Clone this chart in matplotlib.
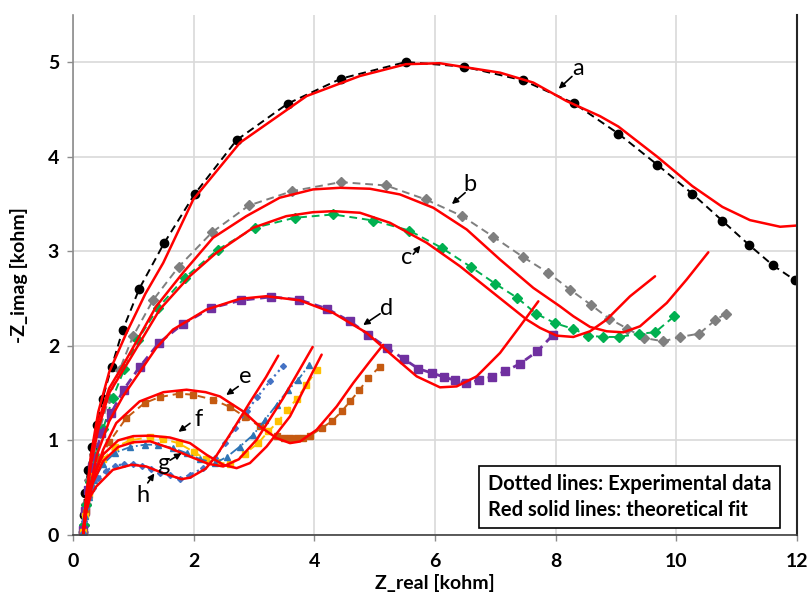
import matplotlib
matplotlib.use("Agg")
import matplotlib.pyplot as plt

# --- EXPERIMENTAL DATA (Z_real, -Z_imag in kohm) ---
a_x = [0.17, 0.18, 0.20, 0.254, 0.32, 0.403, 0.492, 0.641, 0.824, 1.099, 1.508, 2.017, 2.713,
       3.558, 4.442, 5.52, 6.48, 7.459, 8.304, 9.039, 9.685, 10.265, 10.763, 11.21, 11.598, 11.967]
a_y = [0.03, 0.21, 0.445, 0.689, 0.935, 1.158, 1.441, 1.777, 2.164, 2.603, 3.083, 3.605, 4.177,
       4.562, 4.827, 5.003, 4.954, 4.809, 4.566, 4.245, 3.916, 3.609, 3.323, 3.065, 2.853, 2.694]

b_x = [0.18, 0.22, 0.27, 0.35, 0.45, 0.60, 0.774, 0.995, 1.326, 1.752, 2.309, 2.917, 3.635, 4.437,
       5.188, 5.846, 6.453, 6.967, 7.464, 7.878, 8.238, 8.581, 8.885, 9.188, 9.465, 9.785, 10.06,
       10.38, 10.64, 10.82]
b_y = [0.10, 0.33, 0.58, 0.86, 1.13, 1.45, 1.748, 2.10, 2.482, 2.836, 3.203, 3.485, 3.637, 3.732,
       3.697, 3.549, 3.372, 3.154, 2.938, 2.772, 2.595, 2.436, 2.288, 2.182, 2.083, 2.048, 2.094,
       2.129, 2.27, 2.341]

c_x = [0.18, 0.22, 0.28, 0.37, 0.50, 0.66, 0.85, 1.077, 1.409, 1.851, 2.403, 3.011, 3.674, 4.315,
       4.978, 5.575, 6.111, 6.592, 6.995, 7.365, 7.675, 7.99, 8.293, 8.542, 8.79, 9.05, 9.387,
       9.647, 9.967]
c_y = [0.10, 0.32, 0.56, 0.82, 1.12, 1.45, 1.75, 2.066, 2.401, 2.719, 3.019, 3.249, 3.355, 3.39,
       3.326, 3.22, 3.037, 2.836, 2.659, 2.507, 2.341, 2.24, 2.179, 2.108, 2.094, 2.094, 2.129,
       2.143, 2.313]

d_x = [0.17, 0.20, 0.25, 0.32, 0.469, 0.635, 0.84, 1.105, 1.425, 1.823, 2.293, 2.79, 3.287, 3.746,
       4.205, 4.591, 4.895, 5.21, 5.486, 5.724, 5.946, 6.15, 6.332, 6.509, 6.73, 6.94, 7.161,
       7.409, 7.696, 7.961]
d_y = [0.05, 0.25, 0.48, 0.72, 1.077, 1.289, 1.536, 1.776, 2.031, 2.232, 2.401, 2.482, 2.518, 2.489,
       2.394, 2.26, 2.119, 1.977, 1.861, 1.758, 1.713, 1.671, 1.635, 1.607, 1.635, 1.671, 1.73,
       1.811, 1.942, 2.119]

e_x = [0.17, 0.22, 0.30, 0.45, 0.60, 0.884, 1.188, 1.437, 1.757, 1.994, 2.326, 2.602, 2.85, 3.10,
       3.376, 3.49, 3.60, 3.71, 3.82, 3.93, 4.122, 4.288, 4.454, 4.591, 4.746, 4.895, 5.089]
e_y = [0.03, 0.25, 0.50, 0.80, 0.98, 1.236, 1.395, 1.458, 1.494, 1.483, 1.43, 1.353, 1.25, 1.147,
       1.041, 1.03, 1.03, 1.02, 1.03, 1.05, 1.13, 1.20, 1.306, 1.412, 1.529, 1.66, 1.78]

f_x = [0.17, 0.20, 0.26, 0.35, 0.50, 0.70, 0.95, 1.276, 1.497, 1.75, 2.00, 2.20, 2.382, 2.602,
       2.85, 3.072, 3.237, 3.403, 3.542, 3.708, 3.87, 4.039]
f_y = [0.03, 0.20, 0.42, 0.62, 0.80, 0.93, 1.00, 1.035, 1.014, 0.97, 0.88, 0.80, 0.766, 0.752,
       0.86, 0.971, 1.094, 1.20, 1.317, 1.437, 1.59, 1.74]

g_x = [0.17, 0.20, 0.26, 0.35, 0.50, 0.70, 0.95, 1.20, 1.414, 1.663, 1.884, 2.105, 2.354, 2.547,
       2.768, 2.989, 3.183, 3.376, 3.569, 3.735, 3.917]
g_y = [0.03, 0.20, 0.40, 0.58, 0.75, 0.87, 0.93, 0.955, 0.953, 0.918, 0.865, 0.802, 0.76, 0.823,
       0.935, 1.059, 1.218, 1.377, 1.536, 1.642, 1.801]

h_x = [0.17, 0.19, 0.22, 0.27, 0.33, 0.42, 0.55, 0.70, 0.85, 1.00, 1.15, 1.30, 1.45, 1.608, 1.774,
       1.939, 2.16, 2.354, 2.52, 2.685, 2.879, 3.055, 3.265, 3.476]
h_y = [0.02, 0.15, 0.28, 0.40, 0.50, 0.60, 0.68, 0.73, 0.75, 0.75, 0.73, 0.70, 0.66, 0.636, 0.59,
       0.636, 0.706, 0.812, 0.971, 1.13, 1.306, 1.458, 1.624, 1.783]

# --- THEORETICAL FITS ---
fa_x = [0.17, 0.22, 0.30, 0.42, 0.60, 0.89, 1.20, 1.497, 1.995, 2.768, 3.874, 4.757, 5.52, 6.08,
        7.08, 7.63, 8.18, 8.735, 9.039, 9.685, 10.265, 10.763, 11.22, 11.72, 12.0]
fa_y = [0.0, 0.40, 0.85, 1.30, 1.72, 2.14, 2.55, 2.878, 3.549, 4.149, 4.643, 4.855, 4.98, 4.99,
        4.89, 4.785, 4.59, 4.43, 4.32, 4.00, 3.69, 3.47, 3.33, 3.26, 3.273]

fb_x = [0.17, 0.22, 0.30, 0.42, 0.60, 0.884, 1.381, 1.823, 2.321, 2.873, 3.426, 3.978, 4.426,
        4.923, 5.42, 5.972, 6.526, 7.078, 7.63, 8.072, 8.293, 8.57, 8.846, 9.122, 9.398, 9.841,
        10.17, 10.53]
fb_y = [0.0, 0.40, 0.80, 1.20, 1.55, 1.854, 2.418, 2.772, 3.143, 3.372, 3.567, 3.655, 3.672,
        3.662, 3.602, 3.461, 3.231, 2.913, 2.613, 2.418, 2.313, 2.20, 2.154, 2.143, 2.207, 2.454,
        2.701, 2.99]

fc_x = [0.17, 0.22, 0.30, 0.42, 0.60, 0.94, 1.437, 1.934, 2.376, 2.984, 3.536, 3.978, 4.315,
        4.757, 5.254, 5.863, 6.415, 6.967, 7.52, 7.741, 8.017, 8.293, 8.57, 8.846, 9.232, 9.647]
fc_y = [0.0, 0.38, 0.75, 1.12, 1.50, 1.854, 2.383, 2.736, 2.984, 3.249, 3.372, 3.414, 3.425,
        3.408, 3.302, 3.09, 2.842, 2.56, 2.278, 2.19, 2.108, 2.094, 2.154, 2.278, 2.524, 2.736]

fd_x = [0.17, 0.25, 0.40, 0.60, 0.829, 1.381, 1.658, 2.21, 2.763, 3.204, 3.757, 4.315, 4.868,
        5.309, 5.697, 6.083, 6.36, 6.691, 7.078, 7.409, 7.713]
fd_y = [0.0, 0.40, 0.85, 1.20, 1.465, 1.978, 2.172, 2.383, 2.497, 2.525, 2.482, 2.348, 2.137,
        1.889, 1.677, 1.561, 1.571, 1.677, 1.925, 2.207, 2.471]

fe_x = [0.17, 0.22, 0.33, 0.50, 0.718, 1.105, 1.50, 1.884, 2.20, 2.437, 2.823, 3.10, 3.376,
        3.597, 3.763, 4.039, 4.371, 4.646, 4.923, 5.14]
fe_y = [0.0, 0.25, 0.583, 0.90, 1.183, 1.412, 1.51, 1.536, 1.51, 1.465, 1.306, 1.147, 1.024,
        0.971, 0.988, 1.112, 1.359, 1.607, 1.836, 2.01]

ff_x = [0.17, 0.22, 0.33, 0.50, 0.75, 1.00, 1.28, 1.608, 1.94, 2.216, 2.492, 2.713, 2.934,
        3.21, 3.597, 4.122]
ff_y = [0.0, 0.30, 0.60, 0.85, 1.00, 1.045, 1.05, 1.03, 0.971, 0.847, 0.742, 0.706, 0.76,
        0.935, 1.253, 1.907]

fg_x = [0.17, 0.22, 0.33, 0.50, 0.75, 1.00, 1.28, 1.608, 1.94, 2.243, 2.492, 2.75, 3.044,
        3.486, 3.973]
fg_y = [0.0, 0.28, 0.55, 0.78, 0.93, 0.98, 0.99, 0.918, 0.829, 0.752, 0.724, 0.80, 1.006,
        1.448, 1.988]

fh_x = [0.17, 0.22, 0.30, 0.387, 0.663, 0.973, 1.215, 1.492, 1.80, 1.94, 2.20, 2.38, 2.66,
        2.93, 3.20, 3.403]
fh_y = [0.0, 0.25, 0.42, 0.512, 0.689, 0.742, 0.724, 0.654, 0.59, 0.605, 0.70, 0.84, 1.12,
        1.40, 1.67, 1.896]

# curve letters: (label, text pos, arrow tail, arrow head)
labels = [
    ("a", (8.37, 4.93), (8.27, 4.85), (8.05, 4.72)),
    ("b", (6.58, 3.71), (6.50, 3.62), (6.28, 3.50)),
    ("c", (5.53, 2.93), (5.64, 2.97), (5.76, 3.06)),
    ("d", (5.19, 2.40), (5.09, 2.34), (4.81, 2.22)),
    ("e", (2.85, 1.68), (2.74, 1.57), (2.54, 1.48)),
    ("f", (2.08, 1.22), (1.94, 1.18), (1.75, 1.09)),
    ("g", (1.50, 0.76), (1.61, 0.79), (1.80, 0.865)),
    ("h", (1.16, 0.42), (1.24, 0.55), (1.35, 0.65)),
]

plt.rcParams['font.family'] = ['Lato', 'DejaVu Sans']

fig = plt.figure(figsize=(8.1, 6.01), dpi=100)
ax = fig.add_axes([0.090, 0.110, 0.894, 0.865])

# experimental series
ax.plot(a_x, a_y, color='black', ls=(0, (4, 2.5)), lw=1.4, marker='o', ms=6)
ax.plot(b_x, b_y, color='#7f7f7f', ls=(0, (4, 2.5)), lw=1.4, marker='D', ms=5.5)
ax.plot(c_x, c_y, color='#00B050', ls=(0, (4, 2.5)), lw=1.4, marker='D', ms=5)
ax.plot(d_x, d_y, color='#7030A0', ls=(0, (3, 2)), lw=2.0, marker='s', ms=6)
ax.plot(e_x, e_y, color='#C55A11', ls=(0, (4, 2.5)), lw=1.4, marker='s', ms=4.5)
ax.plot(f_x, f_y, color='#FFC000', ls=(0, (4, 2.5)), lw=1.4, marker='s', ms=4.5)
ax.plot(g_x, g_y, color='#2E75B6', ls='-.', lw=1.3, marker='^', ms=5)
ax.plot(h_x, h_y, color='#4472C4', ls=':', lw=1.6, marker='D', ms=3)

# fitted curves on top
for fx, fy in [(fa_x, fa_y), (fb_x, fb_y), (fc_x, fc_y), (fd_x, fd_y),
               (fe_x, fe_y), (ff_x, ff_y), (fg_x, fg_y), (fh_x, fh_y)]:
    ax.plot(fx, fy, color='#FF0000', lw=1.8, solid_capstyle='round')

for name, txt, tail, head in labels:
    ax.text(txt[0], txt[1], name, fontsize=17, ha='center', va='center')
    ax.annotate('', xy=head, xytext=tail,
                arrowprops=dict(arrowstyle='-|>', color='black', lw=1.2, mutation_scale=9,
                                shrinkA=0, shrinkB=0))

ax.set_xlim(0, 12)
ax.set_ylim(0, 5.5)
ax.set_xticks(range(0, 13, 2))
ax.set_yticks(range(0, 6))
ax.grid(True, color='#d9d9d9', lw=1.2)
ax.set_axisbelow(True)

ax.spines['top'].set_visible(False)
ax.spines['left'].set_color('#8c8c8c')
ax.spines['left'].set_linewidth(1.2)
ax.spines['bottom'].set_color('#404040')
ax.spines['bottom'].set_linewidth(1.2)
ax.spines['right'].set_color('#262626')
ax.spines['right'].set_linewidth(1.5)

ax.tick_params(axis='both', labelsize=14, color='#8c8c8c', length=4, width=1)
ax.tick_params(axis='x', pad=9)
ax.tick_params(axis='y', pad=6)
for lbl in ax.get_xticklabels() + ax.get_yticklabels():
    lbl.set_fontweight('bold')

ax.set_xlabel('Z_real [kohm]', fontsize=14, fontweight='bold', labelpad=3)
ax.set_ylabel('-Z_imag [kohm]', fontsize=14, fontweight='bold', labelpad=14)

ax.text(0.573, 0.073, 'Dotted lines: Experimental data\nRed solid lines: theoretical fit',
        transform=ax.transAxes, fontsize=14.5, fontweight='bold', va='center', ha='left',
        linespacing=1.35,
        bbox=dict(boxstyle='square,pad=0.42', facecolor='white', edgecolor='black', lw=1.2))

fig.savefig('out.png', dpi=100)
